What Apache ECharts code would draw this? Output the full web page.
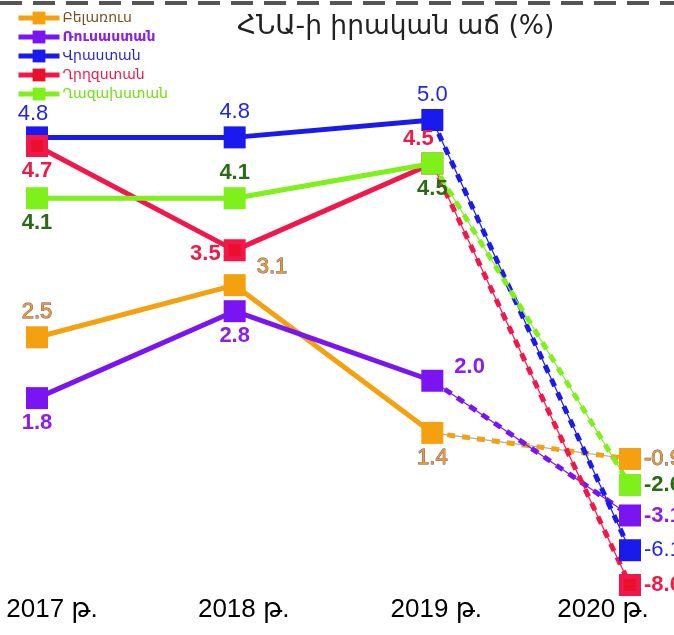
<!DOCTYPE html>
<html>
<head>
<meta charset="utf-8">
<script src="https://cdn.jsdelivr.net/npm/echarts@6/dist/echarts.min.js"></script>
<style>
html,body{margin:0;padding:0;background:#fff;}
#chart{width:674px;height:635px;}
</style>
</head>
<body>
<div id="chart"></div>
<script>
// ---- data ----
const categories = ['2017 թ.', '2018 թ.', '2019 թ.', '2020 թ.'];
const countryNames = ['Բելառուս', 'Ռուսաստան', 'Վրաստան', 'Ղրղզստան', 'Ղազախստան'];
const belarus    = [2.5, 3.1, 1.4, -0.9];
const russia     = [1.8, 2.8, 2.0, -3.1];
const georgia    = [4.8, 4.8, 5.0, -6.1];
const kyrgyzstan = [4.7, 3.5, 4.5, -8.6];
const kazakhstan = [4.1, 4.1, 4.5, -2.6];
const titleText = 'ՀՆԱ-ի իրական աճ (%)';

// ---- styles (kept apart from the data) ----
const lineColors   = ['#f5a00f', '#7a14f2', '#1a1aee', '#f2164b', '#7ef01a'];
const thinColors   = ['#a8a8a8', '#7a14f2', '#1a1aee', '#f2164b', '#7ef01a'];
const labelColors  = ['#f59d0f', '#8a1ef0', '#2424e8', '#f01a48', '#2a6a12'];
const legendColors = ['#7a5020', '#8a1ef0', '#2424e8', '#f01a48', '#6fe010'];
const labelBold    = ['normal', 'bold', 'normal', 'bold', 'bold'];
const labelPos = [
  [['top',[0,0]], ['right',[8,-18]], ['bottom',[0,0]], ['right',[0,0]]],
  [['bottom',[0,0]], ['bottom',[0,0]], ['right',[8,-14]], ['right',[0,0]]],
  [['top',[-4,2]], ['top',[0,0]], ['top',[0,0]], ['right',[0,0]]],
  [['bottom',[0,0]], ['left',[0,4]], ['top',[-14,0]], ['right',[0,0]]],
  [['bottom',[0,0]], ['top',[0,0]], ['bottom',[0,0]], ['right',[0,0]]]
];
const yBreaks = [
  { start: -0.8, end: 1.3, gap: 0.1 },
  { start: -2.5, end: -1.0, gap: 0.1 },
  { start: -3.0, end: -2.75, gap: 0.1 },
  { start: -5.95, end: -3.25, gap: 0.1 },
  { start: -8.45, end: -6.25, gap: 0.1 }
];
const xLabelPadding = [[0,0,0,30],[0,0,0,18],[0,0,0,8],[0,54,0,0]];

const allValues = [belarus, russia, georgia, kyrgyzstan, kazakhstan];
const numFont = 'Liberation Sans, Arial, DejaVu Sans, sans-serif';

function makeLabel(i, j) {
  const lp = labelPos[i][j];
  const lab = {
    show: true,
    position: lp[0],
    offset: lp[1],
    distance: 3,
    color: labelColors[i],
    fontSize: 22,
    fontWeight: labelBold[i],
    fontFamily: numFont,
    formatter: p => p.value.toFixed(1)
  };
  if (i === 0) { lab.textBorderColor = '#4040c0'; lab.textBorderWidth = 0.8; }
  return lab;
}

function markerStyle(i) {
  if (i === 3) return { color: '#e8102c', borderColor: lineColors[i], borderWidth: 5 };
  return { color: lineColors[i] };
}
const markerSize = i => (i === 3 ? 17 : 22);

const series = [];
allValues.forEach((vals, i) => {
  series.push({
    name: countryNames[i],
    type: 'line',
    data: vals.map((v, j) => j < 3 ? { value: v, label: makeLabel(i, j) } : '-'),
    symbol: 'rect',
    symbolSize: markerSize(i),
    lineStyle: { width: 5, color: lineColors[i] },
    itemStyle: markerStyle(i),
    z: 3 + i
  });
  series.push({
    name: countryNames[i],
    type: 'line',
    data: vals.map((v, j) => j >= 2 ? v : '-'),
    symbol: 'none',
    lineStyle: { width: 1.2, color: thinColors[i] },
    itemStyle: { color: lineColors[i] },
    z: 2
  });
  series.push({
    name: countryNames[i],
    type: 'line',
    data: vals.map((v, j) => j === 3 ? { value: v, label: makeLabel(i, j) } : (j === 2 ? { value: v, symbol: 'none' } : '-')),
    symbol: 'rect',
    symbolSize: markerSize(i),
    lineStyle: { width: 5, color: lineColors[i], type: [8, 7] },
    itemStyle: markerStyle(i),
    z: 2
  });
});

const rich = {};
xLabelPadding.forEach((p, k) => {
  rich['p' + k] = { padding: p, fontSize: 26, color: '#000', fontFamily: numFont };
});

const chart = echarts.init(document.getElementById('chart'), null, { renderer: 'canvas' });
chart.setOption({
  animation: false,
  backgroundColor: '#ffffff',
  title: {
    text: titleText,
    left: 232,
    top: 9,
    textStyle: { fontSize: 26.5, fontWeight: 'normal', color: '#222', fontFamily: 'DejaVu Sans, sans-serif' }
  },
  legend: {
    orient: 'vertical',
    left: 11,
    top: 6,
    itemWidth: 41,
    itemHeight: 16,
    itemGap: 5,
    lineStyle: { width: 5 },
    itemStyle: { borderWidth: 0 },
    textStyle: { fontSize: 14, fontFamily: 'DejaVu Sans, sans-serif', padding: [0, 0, 0, -2] },
    data: countryNames.map((n, i) => ({ name: n, textStyle: { color: legendColors[i], fontWeight: i === 1 ? 'bold' : 'normal' } }))
  },
  graphic: [{
    type: 'line',
    shape: { x1: 0, y1: 3, x2: 674, y2: 3 },
    style: { stroke: '#555', lineWidth: 4, lineDash: [22, 11] },
    silent: true
  }],
  grid: { left: 37, right: 44, top: 120, bottom: 50, containLabel: false },
  xAxis: {
    type: 'category',
    data: categories,
    boundaryGap: false,
    axisLine: { show: false },
    axisTick: { show: false },
    axisLabel: {
      margin: 12,
      formatter: (v, idx) => '{p' + idx + '|' + v + '}',
      rich: rich
    }
  },
  yAxis: {
    type: 'value',
    min: -8.6,
    max: 5.0,
    breaks: yBreaks,
    breakArea: { show: false },
    axisLine: { show: false },
    axisTick: { show: false },
    axisLabel: { show: false },
    splitLine: { show: false }
  },
  series: series
});
</script>
</body>
</html>
